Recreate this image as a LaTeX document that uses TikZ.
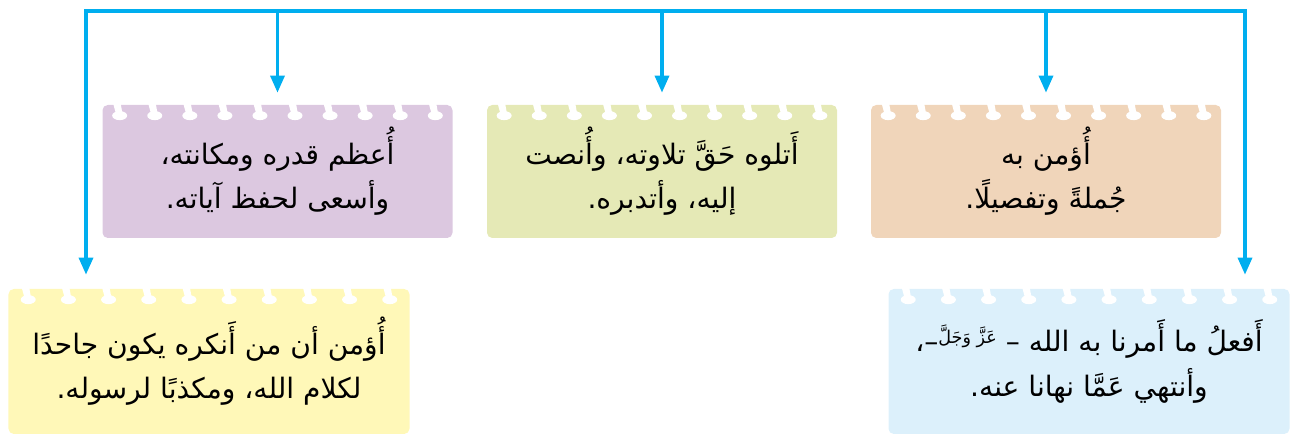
\documentclass[tikz,border=0pt]{standalone}
\usepackage{fontspec}
\usepackage{tikz}
\usetikzlibrary{arrows.meta, positioning, calc}
\newfontfamily\arabicfont[Script=Arabic]{DejaVu Sans}
\TeXXeTstate=1
\definecolor{flow}{HTML}{00AEEF}
\definecolor{lilac}{HTML}{DCC8E0}
\definecolor{lime}{HTML}{E5E9B6}
\definecolor{peach}{HTML}{F0D5BA}
\definecolor{lemon}{HTML}{FFF8B8}
\definecolor{sky}{HTML}{DCF0FB}
\tikzset{
  card/.style={rectangle, rounded corners=3pt, inner sep=0pt,
               minimum width=7cm, minimum height=2.66cm, align=center,
               font=\arabicfont\fontsize{16}{25.5}\selectfont},
  cardW/.style={card, minimum width=8.02cm, minimum height=2.9cm},
  link/.style={draw=flow, line width=1.9pt,
               -{Triangle[length=0.34cm, width=0.28cm]}, shorten >=0.24cm},
}
%% punched holes along the top edge of a card
\newcommand{\punch}[1]{%
  \foreach \k in {0,...,9}{
    \coordinate (h) at ($(#1.north west)!{(\k+0.5)/10}!(#1.north east)$);
    \fill[white] ([yshift=-0.22cm]h) ellipse (0.15cm and 0.09cm);
    \fill[white] ([xshift=-0.13cm,yshift=0.02cm]h) -- ([xshift=0.02cm,yshift=0.02cm]h)
      -- ([xshift=0.06cm,yshift=-0.2cm]h) -- ([xshift=-0.07cm,yshift=-0.2cm]h) -- cycle;
  }}

\begin{document}
\begin{tikzpicture}
  \useasboundingbox (0,0) rectangle (25.82,8.78);

  %% Top row
  \node[card, fill=lilac] (honour) at (5.55,5.35)
    {\beginR أُعظم قدره ومكانته،\endR\\ \beginR وأسعى لحفظ آياته.\endR};
  \node[card, fill=lime] (recite) at (13.24,5.35)
    {\beginR أَتلوه حَقَّ تلاوته، وأُنصت\endR\\ \beginR إليه، وأتدبره.\endR};
  \node[card, fill=peach] (believe) at (20.92,5.35)
    {\beginR أُؤمن به\endR\\ \beginR جُملةً وتفصيلًا.\endR};

  %% Bottom row
  \node[cardW, fill=lemon] (denial) at (4.18,1.55)
    {\beginR أُؤمن أن من أَنكره يكون جاحدًا\endR\\ \beginR لكلام الله، ومكذبًا لرسوله.\endR};
  \node[cardW, fill=sky] (obey) at (21.78,1.55)
    {\beginR أَفعلُ ما أَمرنا به الله – \raisebox{5pt}{\beginR\fontsize{10}{10}\selectfont عَزَّ وَجَلَّ\endR}–،\endR\\ \beginR وأنتهي عَمَّا نهانا عنه.\endR};

  \foreach \n in {honour, recite, believe, denial, obey}{\punch{\n}}

  %% Connectors
  \coordinate (tl) at (1.72,8.56);
  \coordinate (tr) at (24.9,8.56);
  \draw[link, {Triangle[length=0.34cm, width=0.28cm]}-{Triangle[length=0.34cm, width=0.28cm]},
        shorten <=0.28cm, shorten >=0.28cm]
    (tl |- denial.north) |- (tr) -- (tr |- obey.north);
  \foreach \n in {honour, recite, believe}{
    \draw[link] (tl -| \n.north) -- (\n.north);
  }

\end{tikzpicture}
\end{document}
